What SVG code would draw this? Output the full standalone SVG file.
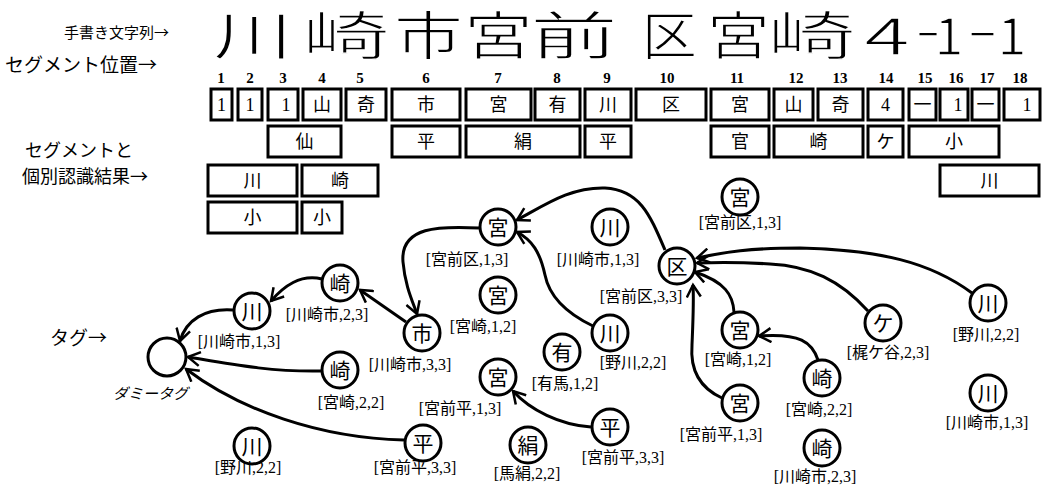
<svg xmlns="http://www.w3.org/2000/svg" width="1048" height="487" viewBox="0 0 1048 487">
<defs>
<marker id="arr" markerUnits="userSpaceOnUse" markerWidth="16" markerHeight="16" refX="13" refY="8" orient="auto">
<path d="M1,1 L13,8 L1,15" fill="none" stroke="#000" stroke-width="2.5"/>
</marker>
</defs>
<style>
.lbl{font-family:"Noto Sans CJK JP",sans-serif;fill:#000}
.hw{font-family:"Noto Sans CJK JP",sans-serif;font-size:52px;fill:#000;stroke:#fff;stroke-width:1.4}
.num{font-family:"Liberation Serif",serif;font-size:15px;font-weight:bold;text-anchor:middle}
.box rect{fill:#fff;stroke:#000;stroke-width:3}
.box text{font-family:"Liberation Serif","Noto Sans CJK JP",serif;font-size:18px;text-anchor:middle}
.node circle{fill:#fff;stroke:#000;stroke-width:3}
.node .k{font-family:"Noto Sans CJK JP",sans-serif;font-size:21px;text-anchor:middle}
.node .t{font-family:"Liberation Serif","Noto Sans CJK JP",serif;font-size:16px;text-anchor:middle}
.conn path{fill:none;stroke:#000;stroke-width:3;marker-end:url(#arr)}
</style>
<rect width="1048" height="487" fill="#fff"/>

<g id="side-labels" class="lbl">
<text x="64" y="38" font-size="15">手書き文字列→</text>
<text x="5" y="72" font-size="19">セグメント位置→</text>
<text x="25" y="157" font-size="18">セグメントと</text>
<text x="22" y="183" font-size="18">個別認識結果→</text>
<text x="50" y="345" font-size="19">タグ→</text>
</g>

<g id="handwriting" class="hw">
<text x="213" y="55" textLength="80" lengthAdjust="spacingAndGlyphs">川</text>
<text x="302" y="55" textLength="88" lengthAdjust="spacingAndGlyphs">崎</text>
<text x="394" y="55" textLength="69" lengthAdjust="spacingAndGlyphs">市</text>
<text x="464" y="55" textLength="69" lengthAdjust="spacingAndGlyphs">宮</text>
<text x="530" y="55" textLength="88" lengthAdjust="spacingAndGlyphs">前</text>
<text x="642" y="55" textLength="55" lengthAdjust="spacingAndGlyphs">区</text>
<text x="707" y="55" textLength="63" lengthAdjust="spacingAndGlyphs">宮</text>
<text x="767" y="55" textLength="89" lengthAdjust="spacingAndGlyphs">崎</text>
<text x="864" y="55" textLength="46" lengthAdjust="spacingAndGlyphs">4</text>
<text x="915" y="49" textLength="26" lengthAdjust="spacingAndGlyphs">-</text>
<text x="949" y="55" text-anchor="middle">1</text>
<text x="966" y="49" textLength="33" lengthAdjust="spacingAndGlyphs">-</text>
<text x="1012" y="55" text-anchor="middle">1</text>
</g>

<g id="segment-numbers">
<text class="num" x="221" y="83">1</text>
<text class="num" x="250" y="83">2</text>
<text class="num" x="283" y="83">3</text>
<text class="num" x="322" y="83">4</text>
<text class="num" x="360" y="83">5</text>
<text class="num" x="426" y="83">6</text>
<text class="num" x="498" y="83">7</text>
<text class="num" x="557" y="83">8</text>
<text class="num" x="607" y="83">9</text>
<text class="num" x="667" y="83">10</text>
<text class="num" x="737" y="83">11</text>
<text class="num" x="796" y="83">12</text>
<text class="num" x="840" y="83">13</text>
<text class="num" x="886" y="83">14</text>
<text class="num" x="925" y="83">15</text>
<text class="num" x="956" y="83">16</text>
<text class="num" x="987" y="83">17</text>
<text class="num" x="1020" y="83">18</text>
</g>

<g id="segments" class="box">
<rect x="211" y="89" width="21" height="31"/><text x="221.5" y="111">1</text>
<rect x="238" y="89" width="24" height="31"/><text x="250" y="111">1</text>
<rect x="268" y="89" width="30" height="31"/><text x="286" y="111">1</text>
<rect x="303" y="89" width="38" height="31"/><text x="322" y="111">山</text>
<rect x="346" y="89" width="40" height="31"/><text x="366" y="111">奇</text>
<rect x="392" y="89" width="68" height="31"/><text x="426" y="111">市</text>
<rect x="466" y="89" width="65" height="31"/><text x="498.5" y="111">宮</text>
<rect x="535" y="89" width="45" height="31"/><text x="557.5" y="111">有</text>
<rect x="585" y="89" width="46" height="31"/><text x="608" y="111">川</text>
<rect x="636" y="89" width="70" height="31"/><text x="671" y="111">区</text>
<rect x="711" y="89" width="58" height="31"/><text x="740" y="111">宮</text>
<rect x="774" y="89" width="39" height="31"/><text x="793.5" y="111">山</text>
<rect x="818" y="89" width="45" height="31"/><text x="840.5" y="111">奇</text>
<rect x="868" y="89" width="35" height="31"/><text x="885.5" y="111">4</text>
<rect x="909" y="89" width="27" height="31"/><text x="922.5" y="111">一</text>
<rect x="940" y="89" width="28" height="31"/><text x="958" y="111">1</text>
<rect x="972" y="89" width="27" height="31"/><text x="985.5" y="111">一</text>
<rect x="1004" y="89" width="36" height="31"/><text x="1027" y="111">1</text>

<rect x="268" y="126" width="73" height="31"/><text x="304.5" y="148">仙</text>
<rect x="392" y="126" width="68" height="31"/><text x="426" y="148">平</text>
<rect x="466" y="126" width="114" height="31"/><text x="523" y="148">絹</text>
<rect x="585" y="126" width="46" height="31"/><text x="608" y="148">平</text>
<rect x="711" y="126" width="58" height="31"/><text x="740" y="148">官</text>
<rect x="774" y="126" width="89" height="31"/><text x="818.5" y="148">崎</text>
<rect x="868" y="126" width="35" height="31"/><text x="885.5" y="148">ケ</text>
<rect x="909" y="126" width="90" height="31"/><text x="954" y="148">小</text>

<rect x="208" y="165" width="89" height="31"/><text x="252.5" y="187">川</text>
<rect x="302" y="165" width="76" height="31"/><text x="340" y="187">崎</text>
<rect x="940" y="165" width="99" height="31"/><text x="989.5" y="187">川</text>

<rect x="208" y="202" width="89" height="31"/><text x="252.5" y="224">小</text>
<rect x="302" y="202" width="40" height="31"/><text x="322" y="224">小</text>
</g>

<g id="connectors" class="conn">
<path d="M322,279 C300,274 284,286 271,301"/>
<path d="M233,310 C205,308 186,320 180,341"/>
<path d="M406,322 L360,290"/>
<path d="M321,371 C270,372 230,364 188,357"/>
<path d="M404,440 C320,438 240,410 186,369"/>
<path d="M479,228 C440,226 400,226 403,262 C405,285 412,300 417,314"/>
<path d="M665,250 C650,215 640,190 605,188 C570,187 545,205 517,220"/>
<path d="M593,326 C570,315 550,300 545,275 C540,252 532,240 517,232"/>
<path d="M591,427 C560,425 530,410 513,391"/>
<path d="M972,293 C930,262 880,250 800,248 C750,248 725,252 697,258"/>
<path d="M868,311 C840,280 810,266 770,264 C740,262 720,262 697,263"/>
<path d="M734,312 C733,295 725,282 695,272"/>
<path d="M722,398 C700,388 690,370 692,345 C693,320 694,300 693,285"/>
<path d="M818,360 C812,342 800,333 759,336"/>
</g>

<g id="n-dummy" class="node"><circle cx="167" cy="357" r="19"/><text class="lbl" x="113" y="399" font-size="15" font-style="italic">ダミータグ</text></g>
<g id="n-kawa1" class="node"><circle cx="252" cy="311" r="18"/><text class="k" x="252" y="319">川</text><text class="t" x="239" y="347">[川崎市,1,3]</text></g>
<g id="n-saki1" class="node"><circle cx="340" cy="283" r="18"/><text class="k" x="340" y="291">崎</text><text class="t" x="327" y="320">[川崎市,2,3]</text></g>
<g id="n-shi" class="node"><circle cx="422" cy="333" r="18"/><text class="k" x="422" y="341">市</text><text class="t" x="410" y="370">[川崎市,3,3]</text></g>
<g id="n-saki2" class="node"><circle cx="340" cy="370" r="18"/><text class="k" x="340" y="378">崎</text><text class="t" x="351" y="408">[宮崎,2,2]</text></g>
<g id="n-kawa2" class="node"><circle cx="252" cy="446" r="18"/><text class="k" x="252" y="454">川</text><text class="t" x="248" y="473">[野川,2,2]</text></g>
<g id="n-hira1" class="node"><circle cx="423" cy="443" r="18"/><text class="k" x="423" y="451">平</text><text class="t" x="415" y="473">[宮前平,3,3]</text></g>
<g id="n-miya1" class="node"><circle cx="498" cy="227" r="18"/><text class="k" x="498" y="235">宮</text><text class="t" x="467" y="265">[宮前区,1,3]</text></g>
<g id="n-miya2" class="node"><circle cx="498" cy="295" r="18"/><text class="k" x="498" y="303">宮</text><text class="t" x="483" y="332">[宮崎,1,2]</text></g>
<g id="n-miya3" class="node"><circle cx="498" cy="377" r="18"/><text class="k" x="498" y="385">宮</text><text class="t" x="460" y="414">[宮前平,1,3]</text></g>
<g id="n-kawa3" class="node"><circle cx="610" cy="227" r="18"/><text class="k" x="610" y="235">川</text><text class="t" x="598" y="265">[川崎市,1,3]</text></g>
<g id="n-ku" class="node"><circle cx="677" cy="266" r="18"/><text class="k" x="677" y="274">区</text><text class="t" x="641" y="302">[宮前区,3,3]</text></g>
<g id="n-kawa4" class="node"><circle cx="610" cy="333" r="18"/><text class="k" x="610" y="341">川</text><text class="t" x="633" y="368">[野川,2,2]</text></g>
<g id="n-ari" class="node"><circle cx="562" cy="352" r="18"/><text class="k" x="562" y="360">有</text><text class="t" x="565" y="389">[有馬,1,2]</text></g>
<g id="n-hira2" class="node"><circle cx="610" cy="427" r="18"/><text class="k" x="610" y="435">平</text><text class="t" x="623" y="463">[宮前平,3,3]</text></g>
<g id="n-kinu" class="node"><circle cx="528" cy="445" r="18"/><text class="k" x="528" y="453">絹</text><text class="t" x="527" y="479">[馬絹,2,2]</text></g>
<g id="n-miya4" class="node"><circle cx="740" cy="197" r="18"/><text class="k" x="740" y="205">宮</text><text class="t" x="740" y="228">[宮前区,1,3]</text></g>
<g id="n-miya5" class="node"><circle cx="740" cy="330" r="18"/><text class="k" x="740" y="338">宮</text><text class="t" x="738" y="365">[宮崎,1,2]</text></g>
<g id="n-miya6" class="node"><circle cx="740" cy="403" r="18"/><text class="k" x="740" y="411">宮</text><text class="t" x="721" y="440">[宮前平,1,3]</text></g>
<g id="n-saki3" class="node"><circle cx="822" cy="378" r="18"/><text class="k" x="822" y="386">崎</text><text class="t" x="819" y="415">[宮崎,2,2]</text></g>
<g id="n-saki4" class="node"><circle cx="822" cy="448" r="18"/><text class="k" x="822" y="456">崎</text><text class="t" x="815" y="482">[川崎市,2,3]</text></g>
<g id="n-ke" class="node"><circle cx="883" cy="323" r="18"/><text class="k" x="883" y="331">ケ</text><text class="t" x="888" y="358">[梶ケ谷,2,3]</text></g>
<g id="n-kawa5" class="node"><circle cx="988" cy="303" r="18"/><text class="k" x="988" y="311">川</text><text class="t" x="986" y="340">[野川,2,2]</text></g>
<g id="n-kawa6" class="node"><circle cx="988" cy="393" r="18"/><text class="k" x="988" y="401">川</text><text class="t" x="987" y="428">[川崎市,1,3]</text></g>
</svg>
